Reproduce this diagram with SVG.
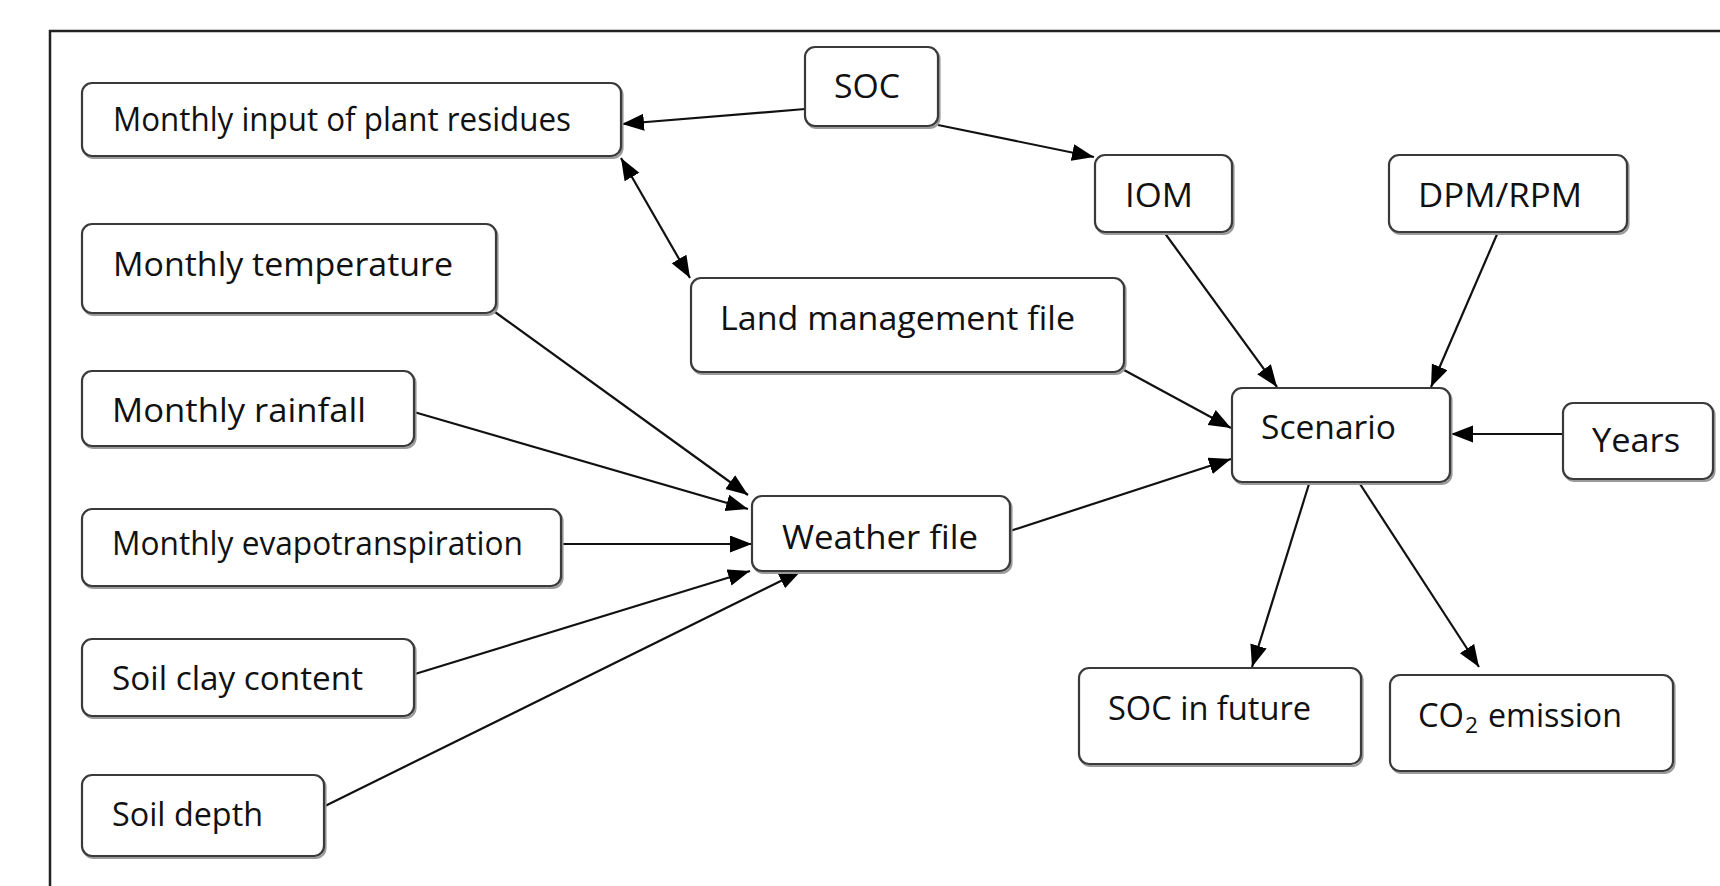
<svg xmlns="http://www.w3.org/2000/svg" width="1720" height="886" viewBox="0 0 1720 886">
<style>
.box{fill:#ffffff;stroke:#3a3a3a;stroke-width:2.2}
.shadow{fill:none;stroke:#9a9a9a;stroke-width:2.2}
.lbl{font-family:"Open Sans","Noto Sans","Liberation Sans",sans-serif;font-size:33px;fill:#111111}
.edge{stroke:#111111;stroke-width:2.2;fill:none}
.frame{stroke:#222222;stroke-width:2.5;fill:none}
</style>
<defs>
<marker id="arr" markerUnits="userSpaceOnUse" markerWidth="24" markerHeight="18" refX="22" refY="8.5" orient="auto">
<path d="M0,0 L22,8.5 L0,17 z" fill="#000000"/>
</marker>
<marker id="arrS" markerUnits="userSpaceOnUse" markerWidth="24" markerHeight="18" refX="22" refY="8.5" orient="auto-start-reverse">
<path d="M0,0 L22,8.5 L0,17 z" fill="#000000"/>
</marker>
</defs>
<rect x="0" y="0" width="1720" height="886" fill="#ffffff"/>
<path class="frame" d="M1722,31 H50 V888"/>

<g id="connectors">
<line class="edge" x1="805" y1="109" x2="622" y2="124" marker-end="url(#arr)"/>
<line class="edge" x1="938" y1="125" x2="1094" y2="157" marker-end="url(#arr)"/>
<line class="edge" x1="621" y1="158" x2="690" y2="278" marker-start="url(#arrS)" marker-end="url(#arrS)"/>
<line class="edge" x1="1164" y1="232" x2="1277" y2="387" marker-end="url(#arr)"/>
<line class="edge" x1="1498" y1="232" x2="1431" y2="387" marker-end="url(#arr)"/>
<line class="edge" x1="1124" y1="370" x2="1231" y2="428" marker-end="url(#arr)"/>
<line class="edge" x1="1562" y1="434" x2="1451" y2="434" marker-end="url(#arr)"/>
<line class="edge" x1="1010" y1="531" x2="1231" y2="459" marker-end="url(#arr)"/>
<line class="edge" x1="1309" y1="484" x2="1252" y2="667" marker-end="url(#arr)"/>
<line class="edge" x1="1360" y1="484" x2="1479" y2="667" marker-end="url(#arr)"/>
<line class="edge" x1="495" y1="312" x2="748" y2="495" marker-end="url(#arr)"/>
<line class="edge" x1="414" y1="412" x2="748" y2="509" marker-end="url(#arr)"/>
<line class="edge" x1="561" y1="544" x2="752" y2="544" marker-end="url(#arr)"/>
<line class="edge" x1="415" y1="674" x2="750" y2="571" marker-end="url(#arr)"/>
<line class="edge" x1="323" y1="807" x2="801" y2="571" marker-end="url(#arr)"/>
</g>

<g id="n_input">
<rect class="shadow" x="83.5" y="85" width="539" height="73" rx="10"/>
<rect class="box" x="82" y="83" width="539" height="73" rx="10"/>
<text class="lbl" x="113" y="131" textLength="458" lengthAdjust="spacingAndGlyphs">Monthly input of plant residues</text>
</g>
<g id="n_soc">
<rect class="shadow" x="806.5" y="49" width="133" height="79" rx="10"/>
<rect class="box" x="805" y="47" width="133" height="79" rx="10"/>
<text class="lbl" x="834" y="98" textLength="66" lengthAdjust="spacingAndGlyphs">SOC</text>
</g>
<g id="n_iom">
<rect class="shadow" x="1096.5" y="157" width="137" height="77" rx="10"/>
<rect class="box" x="1095" y="155" width="137" height="77" rx="10"/>
<text class="lbl" x="1125" y="207" textLength="68" lengthAdjust="spacingAndGlyphs">IOM</text>
</g>
<g id="n_dpm">
<rect class="shadow" x="1390.5" y="157" width="238" height="77" rx="10"/>
<rect class="box" x="1389" y="155" width="238" height="77" rx="10"/>
<text class="lbl" x="1418" y="207" textLength="164" lengthAdjust="spacingAndGlyphs">DPM/RPM</text>
</g>
<g id="n_temp">
<rect class="shadow" x="83.5" y="226" width="414" height="89" rx="10"/>
<rect class="box" x="82" y="224" width="414" height="89" rx="10"/>
<text class="lbl" x="113" y="276" textLength="340" lengthAdjust="spacingAndGlyphs">Monthly  temperature</text>
</g>
<g id="n_land">
<rect class="shadow" x="692.5" y="280" width="433" height="94" rx="10"/>
<rect class="box" x="691" y="278" width="433" height="94" rx="10"/>
<text class="lbl" x="720" y="330" textLength="355" lengthAdjust="spacingAndGlyphs">Land management file</text>
</g>
<g id="n_rain">
<rect class="shadow" x="83.5" y="373" width="332" height="75" rx="10"/>
<rect class="box" x="82" y="371" width="332" height="75" rx="10"/>
<text class="lbl" x="112" y="422" textLength="254" lengthAdjust="spacingAndGlyphs">Monthly  rainfall</text>
</g>
<g id="n_scenario">
<rect class="shadow" x="1233.5" y="390" width="218" height="94" rx="10"/>
<rect class="box" x="1232" y="388" width="218" height="94" rx="10"/>
<text class="lbl" x="1261" y="439" textLength="135" lengthAdjust="spacingAndGlyphs">Scenario</text>
</g>
<g id="n_years">
<rect class="shadow" x="1564.5" y="405" width="150" height="76" rx="10"/>
<rect class="box" x="1563" y="403" width="150" height="76" rx="10"/>
<text class="lbl" x="1592" y="452" textLength="88" lengthAdjust="spacingAndGlyphs">Years</text>
</g>
<g id="n_evapo">
<rect class="shadow" x="83.5" y="511" width="479" height="77" rx="10"/>
<rect class="box" x="82" y="509" width="479" height="77" rx="10"/>
<text class="lbl" x="112" y="555" textLength="411" lengthAdjust="spacingAndGlyphs">Monthly evapotranspiration</text>
</g>
<g id="n_weather">
<rect class="shadow" x="753.5" y="498" width="258" height="75" rx="10"/>
<rect class="box" x="752" y="496" width="258" height="75" rx="10"/>
<text class="lbl" x="782" y="549" textLength="196" lengthAdjust="spacingAndGlyphs">Weather file</text>
</g>
<g id="n_clay">
<rect class="shadow" x="83.5" y="641" width="332" height="77" rx="10"/>
<rect class="box" x="82" y="639" width="332" height="77" rx="10"/>
<text class="lbl" x="112" y="690" textLength="251" lengthAdjust="spacingAndGlyphs">Soil clay content</text>
</g>
<g id="n_socfuture">
<rect class="shadow" x="1080.5" y="670" width="282" height="96" rx="10"/>
<rect class="box" x="1079" y="668" width="282" height="96" rx="10"/>
<text class="lbl" x="1108" y="720" textLength="203" lengthAdjust="spacingAndGlyphs">SOC in future</text>
</g>
<g id="n_co2">
<rect class="shadow" x="1391.5" y="677" width="283" height="96" rx="10"/>
<rect class="box" x="1390" y="675" width="283" height="96" rx="10"/>
<text class="lbl" y="727"><tspan x="1418" textLength="46" lengthAdjust="spacingAndGlyphs">CO</tspan><tspan x="1465" dy="6" font-size="22" textLength="13" lengthAdjust="spacingAndGlyphs">2</tspan><tspan x="1488" dy="-6" textLength="134" lengthAdjust="spacingAndGlyphs">emission</tspan></text>
</g>
<g id="n_depth">
<rect class="shadow" x="83.5" y="777" width="242" height="81" rx="10"/>
<rect class="box" x="82" y="775" width="242" height="81" rx="10"/>
<text class="lbl" x="112" y="826" textLength="151" lengthAdjust="spacingAndGlyphs">Soil depth</text>
</g>
</svg>
